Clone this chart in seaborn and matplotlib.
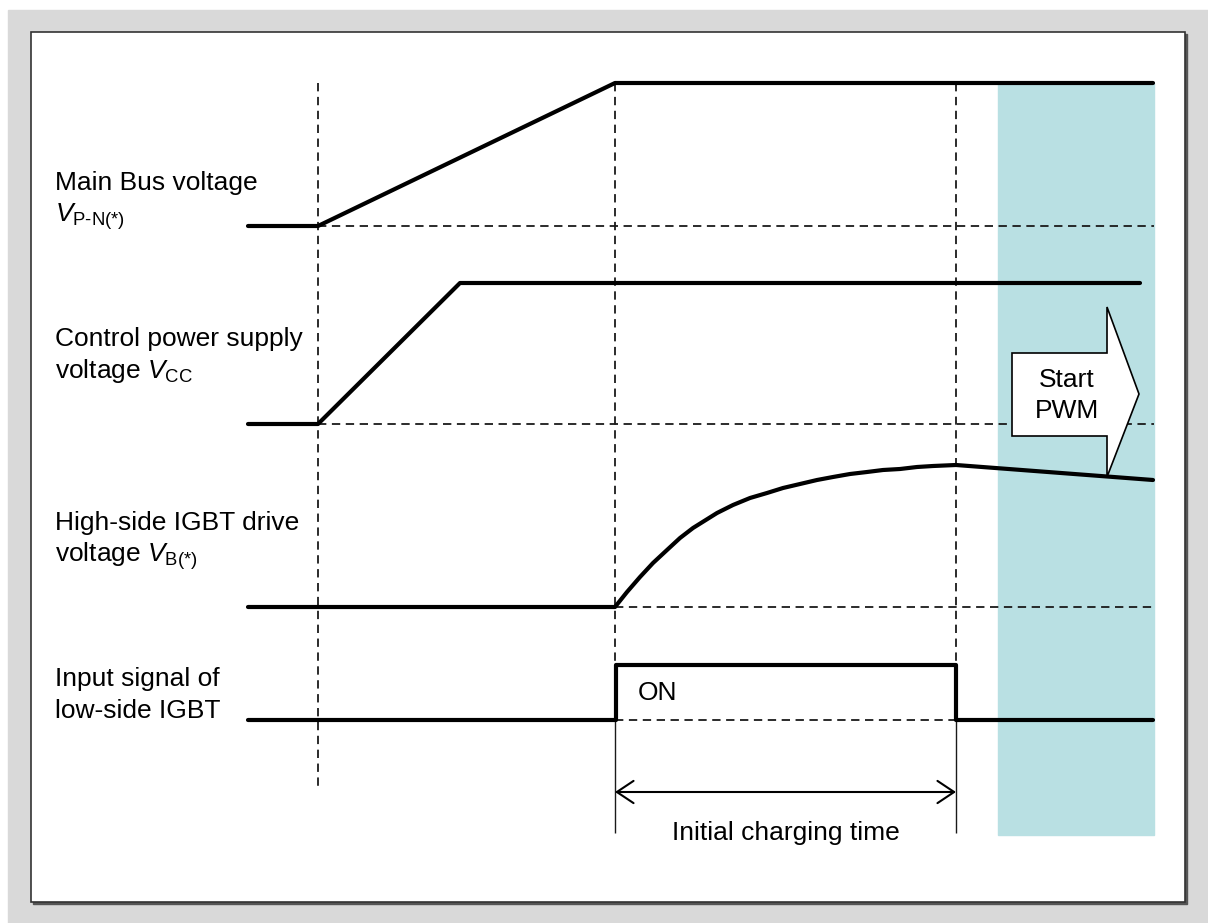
import numpy as np
import pandas as pd
import seaborn as sns
import matplotlib.pyplot as plt
from matplotlib.patches import Rectangle, Polygon

sns.set_theme(style="white")
plt.rcParams['font.family'] = ['Liberation Sans', 'DejaVu Sans']
plt.rcParams['mathtext.fontset'] = 'custom'
plt.rcParams['mathtext.rm'] = 'Liberation Sans'
plt.rcParams['mathtext.it'] = 'Liberation Sans:italic'
plt.rcParams['mathtext.bf'] = 'Liberation Sans:bold'
plt.rcParams['lines.scale_dashes'] = False
plt.rcParams['lines.solid_joinstyle'] = 'round'
plt.rcParams['text.color'] = 'black'

# timing events (x position of the three vertical markers)
events = [318, 615, 956]

# waveforms (x = time, y = level, screen units)
bus_t = [248, 318, 615, 1153]
bus_v = [226, 226, 83, 83]

vcc_t = [248, 318, 460, 1140]
vcc_v = [424, 424, 283, 283]

vb_t = [248, 615, 627, 640, 653, 667, 680, 693, 717, 733, 750, 767, 783,
        800, 817, 833, 850, 867, 883, 900, 917, 933, 956, 1153]
vb_v = [607, 607, 592, 577, 563, 550, 538, 528, 513, 505, 498, 493, 488,
        484, 480, 477, 474, 472, 470, 469, 467, 466, 465, 480]

in_t = [248, 616, 616, 956, 956, 1153]
in_v = [720, 720, 665, 665, 720, 720]

# signal names
labels = [["Main Bus voltage", r"$V_{\text{P-N(*)}}$"],
          ["Control power supply", r"voltage $V_{\text{CC}}$"],
          ["High-side IGBT drive", r"voltage $V_{\text{B(*)}}$"],
          ["Input signal of", "low-side IGBT"]]
label_base = [190, 346, 530, 686]

fig = plt.figure(figsize=(12.08, 9.23), dpi=100)
ax = fig.add_axes([0, 0, 1, 1])

# frame
ax.add_patch(Rectangle((8, 10), 1200, 913, color="#d9d9d9", zorder=0))
ax.add_patch(Rectangle((33, 34), 1154, 870, color="#555555", zorder=0.5))
ax.add_patch(Rectangle((31, 32), 1154, 870, facecolor="white",
                       edgecolor="#333333", lw=1.2, zorder=0.6))

# PWM region
ax.add_patch(Rectangle((998, 83), 156, 752, color="#b9e0e3", zorder=1))

# dashed guides
dash = (0, (6, 4))
ax.vlines(events[0], 83, 790, colors="k", lw=1.3, linestyles=dash, zorder=2)
ax.vlines(events[1:], 83, 720, colors="k", lw=1.3, linestyles=dash, zorder=2)
ax.vlines(events[1:], 720, 833, colors="k", lw=1.0, zorder=2)
ax.hlines([226, 424], events[0], 1154, colors="k", lw=1.3, linestyles=dash, zorder=2)
ax.hlines(607, events[1], 1154, colors="k", lw=1.3, linestyles=dash, zorder=2)
ax.hlines(720, events[1], events[2], colors="k", lw=1.3, linestyles=dash, zorder=2)

# waveforms
for t, v in [(bus_t, bus_v), (vcc_t, vcc_v), (vb_t, vb_v), (in_t, in_v)]:
    df = pd.DataFrame({"t": t, "v": v})
    sns.lineplot(data=df, x="t", y="v", sort=False, estimator=None,
                 color="black", lw=3, ax=ax, zorder=4)
ax.set_xlim(0, 1208)
ax.set_ylim(923, 0)
ax.axis("off")

# labels
fs = 19
for (l1, l2), yb in zip(labels, label_base):
    ax.text(55, yb, l1, fontsize=fs, va="baseline", ha="left")
    ax.text(55, yb + 32, l2, fontsize=fs, va="baseline", ha="left")

ax.text(638, 700, "ON", fontsize=fs, va="baseline")

# initial charging time
ax.annotate("", xy=(events[1], 792), xytext=(events[2], 792),
            arrowprops=dict(arrowstyle="<->,head_length=0.6,head_width=0.4",
                            lw=1.5, color="black", mutation_scale=20,
                            shrinkA=0, shrinkB=0))
ax.text((events[1] + events[2]) / 2, 840, "Initial charging time",
        fontsize=fs, ha="center", va="baseline")

# Start PWM block arrow
arrow_pts = [(1012, 353), (1107, 353), (1107, 307), (1139, 394),
             (1107, 477), (1107, 436), (1012, 436)]
ax.add_patch(Polygon(arrow_pts, closed=True, facecolor="white",
                     edgecolor="black", lw=1.2, zorder=5))
ax.text(1067, 387, "Start", fontsize=fs, ha="center", va="baseline", zorder=6)
ax.text(1067, 418, "PWM", fontsize=fs, ha="center", va="baseline", zorder=6)

fig.savefig("out.png", dpi=100, facecolor="white")
